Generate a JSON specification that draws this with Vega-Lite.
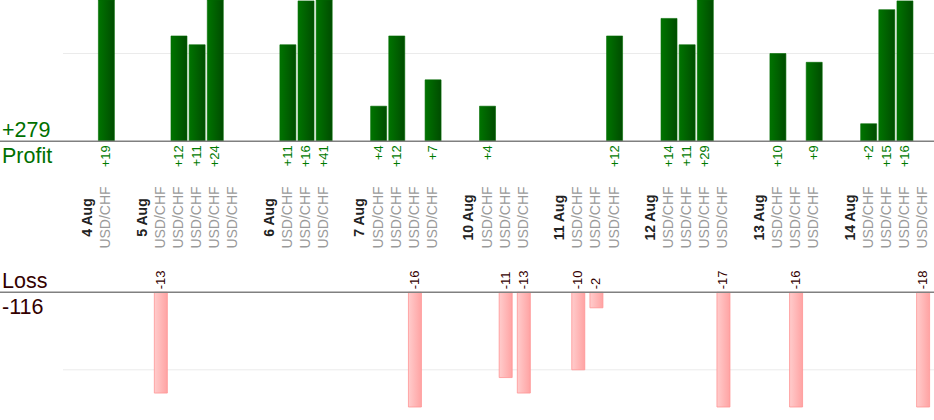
{
  "$schema": "https://vega.github.io/schema/vega-lite/v6.json",
  "width": 934,
  "height": 420,
  "padding": 0,
  "autosize": {"type": "none"},
  "config": {
    "view": {"stroke": null},
    "font": "Liberation Sans",
    "scale": {"continuousPadding": 0}
  },
  "datasets": {
    "trades": [
      {"n": 2, "pair": "USD/CHF", "pl": 19},
      {"n": 5, "pair": "USD/CHF", "pl": -13},
      {"n": 6, "pair": "USD/CHF", "pl": 12},
      {"n": 7, "pair": "USD/CHF", "pl": 11},
      {"n": 8, "pair": "USD/CHF", "pl": 24},
      {"n": 9, "pair": "USD/CHF", "pl": 0},
      {"n": 12, "pair": "USD/CHF", "pl": 11},
      {"n": 13, "pair": "USD/CHF", "pl": 16},
      {"n": 14, "pair": "USD/CHF", "pl": 41},
      {"n": 17, "pair": "USD/CHF", "pl": 4},
      {"n": 18, "pair": "USD/CHF", "pl": 12},
      {"n": 19, "pair": "USD/CHF", "pl": -16},
      {"n": 20, "pair": "USD/CHF", "pl": 7},
      {"n": 23, "pair": "USD/CHF", "pl": 4},
      {"n": 24, "pair": "USD/CHF", "pl": -11},
      {"n": 25, "pair": "USD/CHF", "pl": -13},
      {"n": 28, "pair": "USD/CHF", "pl": -10},
      {"n": 29, "pair": "USD/CHF", "pl": -2},
      {"n": 30, "pair": "USD/CHF", "pl": 12},
      {"n": 33, "pair": "USD/CHF", "pl": 14},
      {"n": 34, "pair": "USD/CHF", "pl": 11},
      {"n": 35, "pair": "USD/CHF", "pl": 29},
      {"n": 36, "pair": "USD/CHF", "pl": -17},
      {"n": 39, "pair": "USD/CHF", "pl": 10},
      {"n": 40, "pair": "USD/CHF", "pl": -16},
      {"n": 41, "pair": "USD/CHF", "pl": 9},
      {"n": 44, "pair": "USD/CHF", "pl": 2},
      {"n": 45, "pair": "USD/CHF", "pl": 15},
      {"n": 46, "pair": "USD/CHF", "pl": 16},
      {"n": 47, "pair": "USD/CHF", "pl": -18}
    ],
    "days": [
      {"n": 1, "day": "4 Aug"},
      {"n": 4, "day": "5 Aug"},
      {"n": 11, "day": "6 Aug"},
      {"n": 16, "day": "7 Aug"},
      {"n": 22, "day": "10 Aug"},
      {"n": 27, "day": "11 Aug"},
      {"n": 32, "day": "12 Aug"},
      {"n": 38, "day": "13 Aug"},
      {"n": 43, "day": "14 Aug"}
    ]
  },
  "resolve": {"scale": {"y": "independent"}},
  "layer": [
    {
      "data": {"values": [{}]},
      "mark": {"type": "rule", "color": "#ebebeb", "strokeWidth": 1},
      "encoding": {
        "x": {"datum": -0.39, "type": "quantitative", "axis": null,
          "scale": {"domain": [-3.862, 47.6], "nice": false, "zero": false, "padding": 0}},
        "x2": {"datum": 47.6},
        "y": {"datum": 10, "type": "quantitative", "axis": null,
          "scale": {"domain": [0, 16.1], "range": [141.3, 0], "nice": false}}
      }
    },
    {
      "data": {"values": [{}]},
      "mark": {"type": "rule", "color": "#ebebeb", "strokeWidth": 1},
      "encoding": {
        "x": {"datum": -0.39, "type": "quantitative", "axis": null,
          "scale": {"domain": [-3.862, 47.6], "nice": false, "zero": false, "padding": 0}},
        "x2": {"datum": 47.6},
        "y": {"datum": -10, "type": "quantitative", "axis": null,
          "scale": {"domain": [-14.8, 0], "range": [407, 292.3], "nice": false}}
      }
    },
    {
      "data": {"name": "trades"},
      "transform": [{"filter": "datum.pl > 0"}],
      "mark": {
        "type": "bar",
        "width": 16,
        "fill": {
          "gradient": "linear", "x1": 0, "x2": 1, "y1": 0, "y2": 0,
          "stops": [{"offset": 0, "color": "#007400"}, {"offset": 1, "color": "#004c00"}]
        },
        "stroke": "#006a00",
        "strokeWidth": 0.6
      },
      "encoding": {
        "x": {"field": "n", "type": "quantitative", "axis": null,
          "scale": {"domain": [-3.862, 47.6], "nice": false, "zero": false, "padding": 0}},
        "y": {"field": "pl", "type": "quantitative", "axis": null,
          "scale": {"domain": [0, 16.1], "range": [141.3, 0], "clamp": true, "nice": false}}
      }
    },
    {
      "data": {"name": "trades"},
      "transform": [{"filter": "datum.pl < 0"}],
      "mark": {
        "type": "bar",
        "width": 13,
        "fill": {
          "gradient": "linear", "x1": 0, "x2": 1, "y1": 0, "y2": 0,
          "stops": [{"offset": 0, "color": "#ffcccc"}, {"offset": 1, "color": "#ffa3a3"}]
        },
        "stroke": "#ff9494",
        "strokeWidth": 0.8
      },
      "encoding": {
        "x": {"field": "n", "type": "quantitative", "axis": null,
          "scale": {"domain": [-3.862, 47.6], "nice": false, "zero": false, "padding": 0}},
        "y": {"field": "pl", "type": "quantitative", "axis": null,
          "scale": {"domain": [-14.8, 0], "range": [407, 292.3], "clamp": true, "nice": false}}
      }
    },
    {
      "data": {"values": [{}]},
      "mark": {"type": "rule", "color": "#808080", "strokeWidth": 1.5},
      "encoding": {
        "y": {"datum": 0, "type": "quantitative", "axis": null,
          "scale": {"domain": [0, 16.1], "range": [141.3, 0], "nice": false}}
      }
    },
    {
      "data": {"values": [{}]},
      "mark": {"type": "rule", "color": "#808080", "strokeWidth": 1.5},
      "encoding": {
        "y": {"datum": 0, "type": "quantitative", "axis": null,
          "scale": {"domain": [-14.8, 0], "range": [407, 292.3], "nice": false}}
      }
    },
    {
      "data": {"name": "trades"},
      "transform": [{"filter": "datum.pl > 0"}],
      "mark": {"type": "text", "angle": 270, "align": "right", "baseline": "middle", "yOffset": 4, "fontSize": 13, "color": "#007a00"},
      "encoding": {
        "x": {"field": "n", "type": "quantitative", "axis": null,
          "scale": {"domain": [-3.862, 47.6], "nice": false, "zero": false, "padding": 0}},
        "y": {"datum": 0, "type": "quantitative", "axis": null,
          "scale": {"domain": [0, 16.1], "range": [141.3, 0], "nice": false}},
        "text": {"field": "pl", "type": "quantitative", "format": "+d"}
      }
    },
    {
      "data": {"name": "trades"},
      "transform": [{"filter": "datum.pl < 0"}],
      "mark": {"type": "text", "angle": 270, "align": "left", "baseline": "middle", "yOffset": -3, "fontSize": 13, "color": "#330000"},
      "encoding": {
        "x": {"field": "n", "type": "quantitative", "axis": null,
          "scale": {"domain": [-3.862, 47.6], "nice": false, "zero": false, "padding": 0}},
        "y": {"datum": 0, "type": "quantitative", "axis": null,
          "scale": {"domain": [-14.8, 0], "range": [407, 292.3], "nice": false}},
        "text": {"field": "pl", "type": "nominal"}
      }
    },
    {
      "data": {"name": "trades"},
      "mark": {"type": "text", "angle": 270, "align": "center", "baseline": "middle", "yOffset": 76.2, "fontSize": 14, "color": "#9a9a9a"},
      "encoding": {
        "x": {"field": "n", "type": "quantitative", "axis": null,
          "scale": {"domain": [-3.862, 47.6], "nice": false, "zero": false, "padding": 0}},
        "y": {"datum": 0, "type": "quantitative", "axis": null,
          "scale": {"domain": [0, 16.1], "range": [141.3, 0], "nice": false}},
        "text": {"field": "pair", "type": "nominal"}
      }
    },
    {
      "data": {"name": "days"},
      "mark": {"type": "text", "angle": 270, "align": "center", "baseline": "middle", "yOffset": 76.2, "fontSize": 14, "fontWeight": "bold", "color": "#222222"},
      "encoding": {
        "x": {"field": "n", "type": "quantitative", "axis": null,
          "scale": {"domain": [-3.862, 47.6], "nice": false, "zero": false, "padding": 0}},
        "y": {"datum": 0, "type": "quantitative", "axis": null,
          "scale": {"domain": [0, 16.1], "range": [141.3, 0], "nice": false}},
        "text": {"field": "day", "type": "nominal"}
      }
    },
    {
      "data": {"name": "trades"},
      "transform": [
        {"filter": "datum.pl > 0"},
        {"aggregate": [{"op": "sum", "field": "pl", "as": "total"}]}
      ],
      "mark": {"type": "text", "align": "left", "baseline": "alphabetic", "yOffset": -4.5, "fontSize": 21.5, "color": "#007000"},
      "encoding": {
        "x": {"datum": -3.75, "type": "quantitative", "axis": null,
          "scale": {"domain": [-3.862, 47.6], "nice": false, "zero": false, "padding": 0}},
        "y": {"datum": 0, "type": "quantitative", "axis": null,
          "scale": {"domain": [0, 16.1], "range": [141.3, 0], "nice": false}},
        "text": {"field": "total", "type": "quantitative", "format": "+d"}
      }
    },
    {
      "data": {"values": [{}]},
      "mark": {"type": "text", "text": "Profit", "align": "left", "baseline": "alphabetic", "yOffset": 21.4, "fontSize": 21.5, "color": "#007000"},
      "encoding": {
        "x": {"datum": -3.75, "type": "quantitative", "axis": null,
          "scale": {"domain": [-3.862, 47.6], "nice": false, "zero": false, "padding": 0}},
        "y": {"datum": 0, "type": "quantitative", "axis": null,
          "scale": {"domain": [0, 16.1], "range": [141.3, 0], "nice": false}}
      }
    },
    {
      "data": {"values": [{}]},
      "mark": {"type": "text", "text": "Loss", "align": "left", "baseline": "alphabetic", "yOffset": -4.3, "fontSize": 21.5, "color": "#330000"},
      "encoding": {
        "x": {"datum": -3.75, "type": "quantitative", "axis": null,
          "scale": {"domain": [-3.862, 47.6], "nice": false, "zero": false, "padding": 0}},
        "y": {"datum": 0, "type": "quantitative", "axis": null,
          "scale": {"domain": [-14.8, 0], "range": [407, 292.3], "nice": false}}
      }
    },
    {
      "data": {"name": "trades"},
      "transform": [
        {"filter": "datum.pl < 0"},
        {"aggregate": [{"op": "sum", "field": "pl", "as": "total"}]}
      ],
      "mark": {"type": "text", "align": "left", "baseline": "alphabetic", "yOffset": 21.7, "fontSize": 21.5, "color": "#330000"},
      "encoding": {
        "x": {"datum": -3.75, "type": "quantitative", "axis": null,
          "scale": {"domain": [-3.862, 47.6], "nice": false, "zero": false, "padding": 0}},
        "y": {"datum": 0, "type": "quantitative", "axis": null,
          "scale": {"domain": [-14.8, 0], "range": [407, 292.3], "nice": false}},
        "text": {"field": "total", "type": "nominal"}
      }
    }
  ]
}
